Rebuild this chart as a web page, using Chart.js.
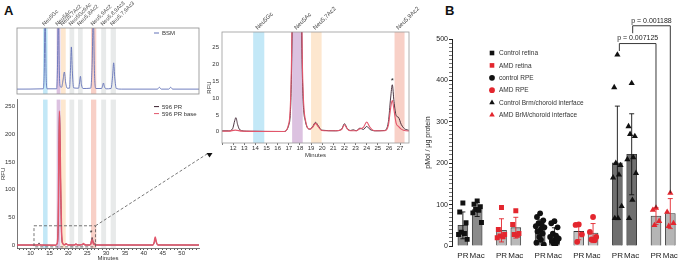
<!DOCTYPE html>
<html>
<head>
<meta charset="utf-8">
<script src="https://cdn.jsdelivr.net/npm/chart.js@4.4.1/dist/chart.umd.min.js"></script>
<style>
  body { margin: 0; background: #fff; }
  #wrap { position: relative; width: 683px; height: 262px; overflow: hidden; font-family: "Liberation Sans", Arial, sans-serif; }
  canvas { position: absolute; }
  .tag { position: absolute; font-weight: bold; font-size: 13px; color: #111; }
</style>
</head>
<body>
<div id="wrap">
  <div class="tag" style="left:4px;top:3px">A</div>
  <div class="tag" style="left:445px;top:3px">B</div>
  <canvas id="cTop" width="210" height="100" style="left:0;top:0"></canvas>
  <canvas id="cMain" width="216" height="168" style="left:0;top:94px"></canvas>
  <canvas id="cInset" width="225" height="159" style="left:200px;top:0"></canvas>
  <canvas id="cB" width="265" height="262" style="left:418px;top:0"></canvas>
</div>
<script>
Chart.defaults.font.family = '"Liberation Sans", Arial, sans-serif';
Chart.defaults.color = '#333';
Chart.defaults.animation = false;
Chart.defaults.events = [];
Chart.defaults.plugins.legend.display = false;
Chart.defaults.plugins.tooltip.enabled = false;

// ---- panel A data: [minutes, RFU] ----
const bsmTrace = [[6.4,0],[13.3,0.5],[13.6,25],[13.85,130],[14.1,25],[14.4,0.5],[16.9,0.5],[17.1,30],[17.35,130],[17.6,30],
  [17.85,4],[18.2,3],[18.6,15],[18.95,28],[19.3,10],[19.7,1.5],[20.3,1.5],[20.55,30],[20.8,69],[21.05,30],[21.4,2],
  [22.7,1.5],[22.95,10],[23.2,21],[23.45,8],[23.9,1],[25.9,1.5],[26.3,40],[26.6,130],[26.9,30],[27.3,1],[28.8,1],
  [29.05,5],[29.3,10],[29.55,4],[30,0.5],[31.3,1],[31.7,20],[32.0,43],[32.3,18],[32.7,1],[34,0],[43.6,0],[44.1,3],
  [44.6,0],[46.6,0],[47.1,3],[47.6,0],[54.6,0]];

const prTrace = [[6.4,0.3],[11.6,0.3],[11.95,0.9],[12.15,3.4],[12.25,4.2],[12.4,2.2],[12.6,0.6],[13.2,0.2],[16.6,0.1],
  [17.0,2],[17.3,30],[17.65,238],[17.95,110],[18.2,20],[18.5,3],[18.9,0.8],[19.15,1.6],[19.4,2.8],[19.65,1.8],[19.95,0.5],
  [21.2,0.3],[21.75,0.8],[22.0,2.4],[22.25,1.0],[22.55,0.4],[22.8,0.6],[23.05,0.3],[23.4,1.1],[23.7,0.7],[24.0,1.6],
  [24.3,0.7],[24.8,0.3],[25.6,0.4],[25.95,3],[26.15,10],[26.3,13.9],[26.45,9],[26.65,4.8],[26.85,4.3],[27.1,2.2],
  [27.5,0.7],[28.5,0.3],[42.4,0.3],[42.75,5],[43.0,12],[43.3,5],[43.7,0.4],[54.6,0.3]];

const prBaseTrace = [[6.4,0.2],[11.6,0.2],[12.2,0.5],[12.8,0.2],[16.6,0.1],[17.0,2.5],[17.3,35],[17.65,242],[17.95,118],
  [18.2,24],[18.5,3.5],[18.9,0.8],[19.15,1.4],[19.4,2.5],[19.65,1.5],[19.95,0.4],[21.2,0.3],[21.75,0.7],[22.0,2.1],
  [22.25,0.9],[22.55,0.3],[23.05,0.3],[23.4,0.9],[23.7,1.3],[24.0,2.9],[24.3,1.3],[24.7,0.3],[25.6,0.3],[25.95,2],
  [26.15,7],[26.3,9.3],[26.45,6.5],[26.65,2.5],[26.85,1.6],[27.1,0.8],[27.5,0.3],[28.5,0.2],[42.4,0.2],[42.75,6],
  [43.0,15],[43.3,6],[43.7,0.4],[54.6,0.2]];

const bandNames = ['Neu5Gc','Neu5Ac','Neu5,7Ac2','Neu5Gc9Ac','Neu5,8Ac2','Neu5,9Ac2','Neu5,8,9Ac3','Neu5,7,9Ac3'];
const bandStart = [13.3, 16.9, 18.05, 20.3, 22.55, 26.0, 28.7, 31.2];
const bandEnd   = [14.5, 17.9, 19.3, 21.55, 23.8, 27.4, 30.0, 32.6];
const insetBandNames = ['Neu5Gc','Neu5Ac','Neu5,7Ac2','Neu5,9Ac2'];
const insetBandStart = [13.8, 17.3, 19.0, 26.5];
const insetBandEnd   = [14.8, 18.25, 19.95, 27.4];
const zoomMinutes = [10.9, 27.2];
const zoomRfu = [-3, 35];
const starPeak = [26.3, 13.9];

// ---- panel B data: pMol / ug protein ----
const groupNames = ['Control retina','AMD retina','control RPE','AMD RPE','Control Brm/choroid interface','AMD BrM/choroid interface'];
const siteLabels = ['PR','Mac'];
const ctrlRetinaPR  = [104, 82, 56, 33, 30, 28, 16];
const ctrlRetinaMac = [109, 101, 95, 88, 86, 80, 57];
const amdRetinaPR   = [93, 40, 28, 24, 22, 20];
const amdRetinaMac  = [85, 52, 30, 28, 26];
const ctrlRpePR     = [79, 70, 62, 55, 52, 48, 45, 40, 35, 30, 22, 15, 8, 3];
const ctrlRpeMac    = [60, 55, 45, 30, 25, 22, 18, 15, 12, 10, 6, 3];
const amdRpePR      = [52, 51, 28, 10];
const amdRpeMac     = [70, 34, 22, 16, 14];
const ctrlBrmPR     = [462, 383, 195, 200, 172, 165, 96, 67, 67];
const ctrlBrmMac    = [393, 289, 265, 270, 214, 209, 176, 111, 67];
const amdBrmPR      = [92, 87, 60, 50];
const amdBrmMac     = [128, 82, 55, 48];
const pLabels = ['p = 0.007125', 'p = 0.001188'];
const pLevels = [489, 532];

const groupPoints = [[ctrlRetinaPR, ctrlRetinaMac], [amdRetinaPR, amdRetinaMac], [ctrlRpePR, ctrlRpeMac],
  [amdRpePR, amdRpeMac], [ctrlBrmPR, ctrlBrmMac], [amdBrmPR, amdBrmMac]];

// styles
const lineBsm = '#6272b8', lineDark = '#3a1f2e', lineRed = '#e2566b';
const bandColors = ['#c3e8f7','#dcc2e0','#fde7cf','#e8eaea','#e8eaea','#f8d0c7','#e8eaea','#e8eaea'];
const insetBandColors = ['#c3e8f7','#dcc2e0','#fde7cf','#f8d0c7'];
const red = '#e3262e';
const groupColor = ['#111', red, '#111', red, '#111', red];
const groupShape = ['rect', 'rect', 'circle', 'circle', 'triangle', 'triangle'];
const groupRadius = [3.5, 3.5, 2.9, 2.9, 3.6, 3.6];
const barFill = ['#8b8b8b', '#b9b9b9', '#8b8b8b', '#c2c2c2', '#6f6f6f', '#b5b5b5'];

const toXY = arr => arr.map(p => ({x: p[0], y: p[1]}));
const traceStyle = (color, w) => ({
  type: 'line', borderColor: color, borderWidth: w, pointRadius: 0,
  cubicInterpolationMode: 'monotone', fill: false
});

function bandsPlugin(starts, ends, colors, names, fontSize) {
  return {
    id: 'bands',
    beforeDatasetsDraw(chart) {
      const {ctx, chartArea, scales} = chart;
      ctx.save();
      starts.forEach((s, i) => {
        const x0 = scales.x.getPixelForValue(s);
        const x1 = scales.x.getPixelForValue(ends[i]);
        ctx.fillStyle = colors[i];
        ctx.fillRect(x0, chartArea.top, x1 - x0, chartArea.bottom - chartArea.top);
      });
      ctx.restore();
    },
    afterDraw(chart) {
      if (!names) return;
      const {ctx, chartArea, scales} = chart;
      ctx.save();
      ctx.fillStyle = '#444';
      ctx.font = fontSize + 'px "Liberation Sans", Arial, sans-serif';
      ctx.textBaseline = 'alphabetic';
      names.forEach((n, i) => {
        const xc = scales.x.getPixelForValue((starts[i] + ends[i]) / 2);
        ctx.save();
        ctx.translate(xc - 1, chartArea.top - 2);
        ctx.rotate(-Math.PI / 4);
        ctx.fillText(n, 0, 0);
        ctx.restore();
      });
      ctx.restore();
    }
  };
}

function legendLines(entries, dx, dy, step) {
  return {
    id: 'lineLegend',
    afterDraw(chart) {
      const {ctx, chartArea} = chart;
      ctx.save();
      ctx.font = '6px "Liberation Sans", Arial, sans-serif';
      ctx.textBaseline = 'middle';
      entries.forEach((e, i) => {
        const x = chartArea.right + dx, y = chartArea.top + dy + i * step;
        ctx.strokeStyle = e[1];
        ctx.lineWidth = 1;
        ctx.beginPath(); ctx.moveTo(x, y); ctx.lineTo(x + 5, y); ctx.stroke();
        ctx.fillStyle = '#333';
        ctx.fillText(e[0], x + 8, y + 0.5);
      });
      ctx.restore();
    }
  };
}

const frame = color => ({
  id: 'frame',
  afterDraw(chart) {
    const {ctx, chartArea: a} = chart;
    ctx.save();
    ctx.strokeStyle = color;
    ctx.lineWidth = 0.8;
    ctx.strokeRect(a.left, a.top, a.right - a.left, a.bottom - a.top);
    ctx.restore();
  }
});

// ---- A top: BSM ----
new Chart(document.getElementById('cTop'), {
  type: 'line',
  data: { datasets: [Object.assign({ label: 'BSM', data: toXY(bsmTrace) }, traceStyle(lineBsm, 0.9))] },
  options: {
    responsive: false,
    layout: { padding: { left: 17, top: 28, right: 11, bottom: 6 } },
    scales: {
      x: { type: 'linear', min: 6.4, max: 54.6, display: false },
      y: { min: -8, max: 100, display: false }
    }
  },
  plugins: [bandsPlugin(bandStart, bandEnd, bandColors, bandNames, 5.5), frame('#8c8c8c'),
    legendLines([['BSM', lineBsm]], -45, 5, 8)]
});

// ---- A bottom: 596 PR ----
const zoomBox = {
  id: 'zoomBox',
  afterDraw(chart) {
    const {ctx, scales: {x, y}} = chart;
    const x0 = x.getPixelForValue(zoomMinutes[0]), x1 = x.getPixelForValue(zoomMinutes[1]);
    const y0 = y.getPixelForValue(zoomRfu[1]), y1 = y.getPixelForValue(zoomRfu[0]);
    ctx.save();
    ctx.strokeStyle = '#555';
    ctx.lineWidth = 0.8;
    ctx.setLineDash([3, 2]);
    ctx.strokeRect(x0, y0, x1 - x0, y1 - y0);
    ctx.beginPath();
    ctx.moveTo(x1, y0);
    ctx.lineTo(207, 60);
    ctx.stroke();
    ctx.setLineDash([]);
    ctx.fillStyle = '#111';
    ctx.beginPath();
    ctx.moveTo(206.5, 59); ctx.lineTo(212.5, 59); ctx.lineTo(209.5, 63.5); ctx.closePath();
    ctx.fill();
    ctx.font = '7px "Liberation Sans", Arial, sans-serif';
    ctx.textAlign = 'center';
    ctx.fillStyle = '#222';
    ctx.fillText('*', x.getPixelForValue(starPeak[0]) - 1, y.getPixelForValue(starPeak[1]) - 2);
    ctx.restore();
  }
};

new Chart(document.getElementById('cMain'), {
  type: 'line',
  data: { datasets: [
    Object.assign({ label: '596 PR base', data: toXY(prBaseTrace) }, traceStyle(lineRed, 1.5)),
    Object.assign({ label: '596 PR', data: toXY(prTrace) }, traceStyle(lineDark, 0.8))
  ] },
  options: {
    responsive: false,
    layout: { padding: { left: 0, top: 1, right: 17, bottom: 0 } },
    scales: {
      x: {
        type: 'linear', min: 6.4, max: 54.6,
        grid: { drawOnChartArea: false, tickLength: 2, color: '#555' },
        border: { color: '#555', width: 0.8 },
        ticks: { stepSize: 1, autoSkip: false, includeBounds: false, maxRotation: 0, padding: 0, font: { size: 6 },
          callback: v => (Number.isInteger(v) && v % 5 === 0) ? v : '' },
        title: { display: true, text: 'Minutes', font: { size: 6 }, padding: 0 },
        afterFit: s => { s.height = 14; }
      },
      y: {
        min: -5, max: 262,
        grid: { display: false, drawTicks: false },
        border: { color: '#555', width: 0.8 },
        ticks: { stepSize: 50, autoSkip: false, includeBounds: false, padding: 2, font: { size: 6 },
          callback: v => (v % 50 === 0) ? v : '' },
        title: { display: true, text: 'RFU', font: { size: 6 }, padding: 0 },
        afterFit: s => { s.width = 17; }
      }
    }
  },
  plugins: [bandsPlugin(bandStart, bandEnd, bandColors, null, 0), zoomBox,
    legendLines([['596 PR', lineDark], ['596 PR base', lineRed]], -45, 7, 7)]
});

// ---- A inset ----
const insetStar = {
  id: 'insetStar',
  afterDraw(chart) {
    const {ctx, scales: {x, y}} = chart;
    ctx.save();
    ctx.font = '8px "Liberation Sans", Arial, sans-serif';
    ctx.textAlign = 'center';
    ctx.fillStyle = '#222';
    ctx.fillText('*', x.getPixelForValue(starPeak[0]), y.getPixelForValue(starPeak[1]) - 2);
    ctx.restore();
  }
};

new Chart(document.getElementById('cInset'), {
  type: 'line',
  data: { datasets: [
    Object.assign({ label: '596 PR base', data: toXY(prBaseTrace) }, traceStyle(lineRed, 1.1)),
    Object.assign({ label: '596 PR', data: toXY(prTrace) }, traceStyle(lineDark, 0.9))
  ] },
  options: {
    responsive: false,
    layout: { padding: { left: 0, top: 32, right: 16, bottom: 0 } },
    scales: {
      x: {
        type: 'linear', min: 11, max: 27.8,
        grid: { drawOnChartArea: false, tickLength: 2, color: '#777' },
        border: { display: false },
        ticks: { stepSize: 1, autoSkip: false, includeBounds: false, maxRotation: 0, padding: 0, font: { size: 6 },
          callback: v => (Number.isInteger(v) && v >= 12) ? v : '' },
        title: { display: true, text: 'Minutes', font: { size: 6 }, padding: 0 },
        afterFit: s => { s.height = 16; }
      },
      y: {
        min: -3.3, max: 29.5,
        grid: { display: false, drawTicks: false },
        border: { display: false },
        ticks: { stepSize: 5, autoSkip: false, includeBounds: false, padding: 3, font: { size: 6 },
          callback: v => (v % 5 === 0) ? v : '' },
        title: { display: true, text: 'RFU', font: { size: 6 }, padding: { top: 6, bottom: 0 } },
        afterFit: s => { s.width = 22; }
      }
    }
  },
  plugins: [bandsPlugin(insetBandStart, insetBandEnd, insetBandColors, insetBandNames, 6), frame('#999'), insetStar]
});

// ---- B ----
const GROUP_STEP = 2.7;
const sitePos = (g, s) => g * GROUP_STEP + s;
const jitter = [0, -0.22, 0.22, -0.11, 0.11, -0.3, 0.3, 0.05, -0.18, 0.18, -0.06, 0.06, -0.26, 0.26];
const mean = a => a.reduce((t, v) => t + v, 0) / a.length;
const sd = a => { const m = mean(a); return Math.sqrt(a.reduce((t, v) => t + (v - m) * (v - m), 0) / (a.length - 1)); };

const barData = [], barColors = [], tickPos = [];
groupPoints.forEach((pair, g) => pair.forEach((pts, s) => {
  barData.push({ x: sitePos(g, s), y: mean(pts) });
  barColors.push(barFill[g]);
  tickPos.push(sitePos(g, s));
}));

const pointSets = groupPoints.map((pair, g) => ({
  type: 'scatter',
  label: groupNames[g],
  data: pair.flatMap((pts, s) => pts.map((v, i) => ({ x: sitePos(g, s) + jitter[i % jitter.length], y: v }))),
  pointStyle: groupShape[g],
  pointRadius: groupRadius[g],
  backgroundColor: groupColor[g],
  borderWidth: 0,
  order: 1
}));

function drawMarker(ctx, shape, x, y, r) {
  ctx.beginPath();
  if (shape === 'rect') { const h = r * 0.72; ctx.rect(x - h, y - h, 2 * h, 2 * h); }
  else if (shape === 'circle') { ctx.arc(x, y, r * 0.9, 0, Math.PI * 2); }
  else { ctx.moveTo(x, y - r); ctx.lineTo(x + r * 0.87, y + r * 0.5); ctx.lineTo(x - r * 0.87, y + r * 0.5); ctx.closePath(); }
  ctx.fill();
}

const bExtras = {
  id: 'bExtras',
  afterDatasetsDraw(chart) {
    const {ctx, chartArea, scales: {x, y}} = chart;
    ctx.save();
    // error bars (mean +/- SD)
    groupPoints.forEach((pair, g) => pair.forEach((pts, s) => {
      const px = x.getPixelForValue(sitePos(g, s));
      const m = mean(pts), d = sd(pts);
      const yt = y.getPixelForValue(m + d), yb = y.getPixelForValue(Math.max(m - d, 0));
      ctx.strokeStyle = groupColor[g];
      ctx.lineWidth = 0.9;
      ctx.beginPath();
      ctx.moveTo(px, yb); ctx.lineTo(px, yt);
      ctx.moveTo(px - 2.5, yt); ctx.lineTo(px + 2.5, yt);
      if (m - d > 0) { ctx.moveTo(px - 2.5, yb); ctx.lineTo(px + 2.5, yb); }
      ctx.stroke();
    }));
    // significance brackets: control BrM vs AMD BrM, PR then Mac
    ctx.strokeStyle = '#222';
    ctx.fillStyle = '#222';
    ctx.lineWidth = 0.9;
    ctx.font = '7px "Liberation Sans", Arial, sans-serif';
    ctx.textAlign = 'center';
    ctx.textBaseline = 'bottom';
    [0, 1].forEach(s => {
      const xl = x.getPixelForValue(sitePos(4, s)) + (s === 0 ? 2 : 1);
      const xr = x.getPixelForValue(sitePos(5, s));
      const yl = y.getPixelForValue(pLevels[s]);
      const yEndL = y.getPixelForValue(pLevels[s] - 18);
      const yEndR = y.getPixelForValue(Math.max(...groupPoints[5][s]));
      ctx.beginPath();
      ctx.moveTo(xl, yEndL); ctx.lineTo(xl, yl); ctx.lineTo(xr, yl); ctx.lineTo(xr, yEndR);
      ctx.stroke();
      ctx.fillText(pLabels[s], (xl + xr) / 2, yl - 1.5);
    });
    // legend
    ctx.textAlign = 'left';
    ctx.textBaseline = 'middle';
    ctx.font = '6.5px "Liberation Sans", Arial, sans-serif';
    groupNames.forEach((n, g) => {
      const lx = chartArea.left + 40, ly = chartArea.top + 14 + g * 12.4;
      ctx.fillStyle = groupColor[g];
      drawMarker(ctx, groupShape[g], lx, ly, 3.2);
      ctx.fillStyle = '#333';
      ctx.fillText(n, lx + 7, ly + 0.5);
    });
    ctx.restore();
  }
};

new Chart(document.getElementById('cB'), {
  type: 'bar',
  data: { datasets: [
    { type: 'bar', label: 'mean', data: barData, backgroundColor: barColors, borderColor: '#333',
      borderWidth: 0.8, barThickness: 10, order: 3 },
    ...pointSets
  ] },
  options: {
    responsive: false,
    layout: { padding: { left: 0, top: 39, right: 2, bottom: 0 } },
    scales: {
      x: {
        type: 'linear', min: -0.76, max: 15.05, offset: false,
        grid: { display: false, drawTicks: false },
        border: { display: false },
        afterBuildTicks: s => { s.ticks = tickPos.map(v => ({ value: v })); },
        ticks: { autoSkip: false, maxRotation: 0, padding: 5, color: '#222', font: { size: 8 },
          callback: (v, i) => siteLabels[i % 2] },
        afterFit: s => { s.height = 16; }
      },
      y: {
        min: 0, max: 500,
        grid: { drawOnChartArea: false, tickLength: 3,
          tickColor: c => (c.tick && c.tick.value % 100 === 0) ? '#222' : '#777' },
        border: { color: '#222', width: 1 },
        ticks: { stepSize: 10, autoSkip: false, padding: 1, color: '#222', font: { size: 7 },
          callback: v => (v % 100 === 0) ? v : '' },
        title: { display: true, text: 'pMol / µg protein', font: { size: 7 }, color: '#222', padding: { top: 6, bottom: 0 } },
        afterFit: s => { s.width = 34; }
      }
    }
  },
  plugins: [bExtras]
});
</script>
</body>
</html>
